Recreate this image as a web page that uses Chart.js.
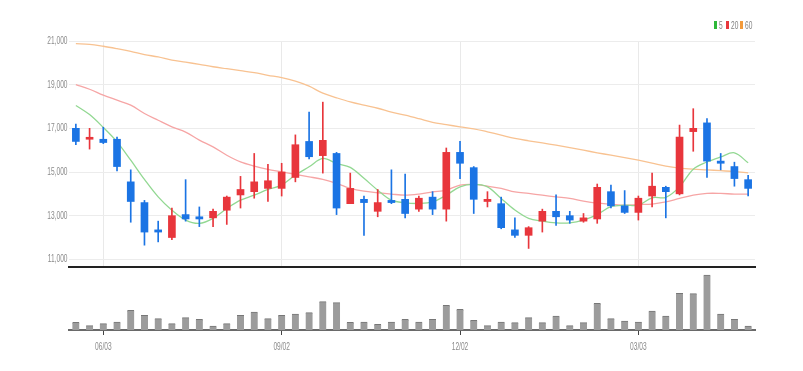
<!DOCTYPE html>
<html>
<head>
<meta charset="utf-8">
<script src="https://cdn.jsdelivr.net/npm/chart.js@4.4.1/dist/chart.umd.min.js"></script>
<style>
  html, body { margin: 0; padding: 0; background: #ffffff; }
  #wrap { position: relative; width: 803px; height: 371px; overflow: hidden; background: #fff; }
  #priceCanvas { position: absolute; left: 0; top: 0; }
  #volCanvas { position: absolute; left: 0; top: 268px; }
  .lgbx { position: absolute; top: 21px; width: 3px; height: 8px; }
  .lgtx { position: absolute; top: 18px; font: 11px 'Liberation Sans', Arial, sans-serif; color: #808080;
          transform: scaleX(0.6); transform-origin: 0 0; line-height: 14px; white-space: nowrap; }
</style>
</head>
<body>
<div id="wrap">
  <canvas id="priceCanvas" width="803" height="270"></canvas>
  <canvas id="volCanvas" width="803" height="103"></canvas>
</div>
<script>
// ---- data ----
const categories = ['05/20','05/27','06/03','06/10','06/17','06/24','07/01','07/08','07/15','07/22',
  '07/29','08/05','08/12','08/19','08/26','09/02','09/09','09/16','09/23','09/30',
  '10/07','10/14','10/21','10/28','11/04','11/11','11/18','11/25','12/02','12/09',
  '12/16','12/23','12/30','01/06','01/13','01/20','01/27','02/03','02/10','02/17',
  '02/24','03/03','03/10','03/17','03/24','03/31','04/07','04/14','04/21','04/28'];
const tickLabels = ['06/03','09/02','12/02','03/03'];
const yTickValues = [11000, 13000, 15000, 17000, 19000, 21000];

const openPrices = [17000,16500,16500,16500,14550,13600,12350,12000,13050,12950,
  12900,13250,13950,14100,14250,14250,14750,16400,15750,15850,
  13550,13750,13200,13700,13750,13300,13850,13300,15900,15200,
  13650,13550,12350,12100,12750,13200,13000,12750,12850,14100,
  13450,13150,13900,14300,14000,16850,17250,15500,15250,14650];
const highPrices = [17200,17000,17050,16600,15100,13700,12750,13350,14650,13400,
  13300,13900,14800,15850,15350,15400,16700,17750,18200,15900,
  14950,13900,14200,15100,14900,13900,14100,16100,16400,15250,
  14100,13850,12900,12500,13300,13950,13200,13100,14450,14400,
  14150,13900,14950,14350,17150,17900,17450,15850,15450,14850];
const lowPrices = [16250,16050,16300,15050,12700,11650,11800,11900,12750,12500,
  12500,12600,13350,13800,13650,13900,14550,15600,14950,13050,
  13550,12100,12950,13550,12900,13200,13050,12750,14700,13100,
  13400,12400,12000,11500,12250,12550,12650,12700,12650,13350,
  13100,12800,13400,12900,13950,15950,14750,15100,14350,13900];
const closePrices = [16400,16550,16350,15250,13650,12250,12250,13000,12850,12850,
  13200,13850,14200,14550,14600,15000,16250,15700,16450,13350,
  14250,13600,13600,13600,13100,13800,13300,15900,15400,13750,
  13750,12450,12100,12450,13200,12950,12800,12900,14300,13450,
  13150,13800,14350,14100,16600,17000,15500,15400,14700,14250];

const ma5 = [18050,17630,17040,16380,15540,14660,13860,13250,12800,12650,
  12880,13330,13710,13940,14200,14400,14860,15240,15620,15390,
  15210,14710,14170,13710,13590,13560,13630,13940,14320,14430,
  14320,13790,13260,12880,12750,12670,12670,12800,13050,13410,
  13480,13480,13820,13840,14320,15130,15460,15690,15880,15420];
const ma20 = [19000,18790,18520,18290,18060,17680,17370,17070,16830,16460,
  16150,15770,15460,15270,15120,15010,14890,14780,14660,14480,
  14250,14120,14050,13990,13940,13990,14090,14170,14400,14430,
  14350,14250,14090,14020,13940,13860,13790,13670,13580,13530,
  13480,13510,13530,13630,13790,13940,14020,14020,13990,13990];
const ma60 = [20880,20850,20760,20650,20530,20380,20270,20120,20030,19930,
  19820,19730,19640,19550,19430,19320,19160,18930,18610,18400,
  18210,18060,17920,17740,17600,17440,17270,17170,17070,16980,
  16840,16690,16540,16430,16330,16230,16120,16000,15880,15770,
  15660,15540,15410,15270,15180,15130,15100,15060,15020,14960];

const volumes = [77,43,63,80,197,147,113,63,123,107,
  40,63,147,180,113,147,160,173,283,273,
  77,80,57,80,107,80,107,247,207,97,
  43,80,73,123,73,140,43,73,267,113,
  90,80,190,140,367,363,550,160,107,40];

const seriesNames = ['5', '20', '60'];

// ---- styles ----
const UP = '#e8363c';
const DOWN = '#1b74e4';
const FONT = "'Liberation Sans', Arial, sans-serif";
const lineColors = ['#92d892', '#f6a5a5', '#f8c291'];
const legendColors = ['#2eb83a', '#e8363c', '#f39a3a'];
const legendBoxX = [714, 726, 740];

const wicks = categories.map((_, i) => [lowPrices[i], highPrices[i]]);
const bodies = categories.map((_, i) => [openPrices[i], closePrices[i]]);
const candleColor = ctx => closePrices[ctx.dataIndex] >= openPrices[ctx.dataIndex] ? UP : DOWN;
const isTick = i => tickLabels.includes(categories[i]);

// legend (html text)
const wrap = document.getElementById('wrap');
seriesNames.forEach((n, k) => {
  const bx = document.createElement('div'); bx.className = 'lgbx';
  bx.style.left = legendBoxX[k] + 'px'; bx.style.background = legendColors[k];
  const tx = document.createElement('div'); tx.className = 'lgtx';
  tx.style.left = (legendBoxX[k] + 4.5) + 'px'; tx.textContent = n;
  wrap.appendChild(bx); wrap.appendChild(tx);
});

// condensed axis labels, positioned by the chart's own scales
const squeezedLabels = {
  id: 'squeezedLabels',
  afterDraw(chart, args, opts) {
    const ctx = chart.ctx;
    ctx.save();
    ctx.font = opts.size + 'px ' + FONT;
    ctx.fillStyle = opts.color;
    const put = (txt, x, y) => { ctx.save(); ctx.translate(x, y); ctx.scale(opts.squeeze, 1); ctx.fillText(txt, 0, 0); ctx.restore(); };
    if (opts.axis === 'y') {
      const s = chart.scales.y;
      ctx.textAlign = 'right'; ctx.textBaseline = 'middle';
      s.ticks.forEach(t => put(Number(t.value).toLocaleString('en-US'), s.right - opts.pad, s.getPixelForValue(t.value)));
    } else {
      const s = chart.scales.x;
      ctx.textAlign = 'center'; ctx.textBaseline = 'top';
      categories.forEach((c, i) => { if (isTick(i)) put(c, s.getPixelForValue(i), s.top + opts.pad); });
    }
    ctx.restore();
  }
};

const maData = [ma5, ma20, ma60];
const lineSets = maData.map((d, k) => ({
  type: 'line', label: seriesNames[k], data: d, borderColor: lineColors[k], borderWidth: 1.3,
  pointRadius: 0, tension: 0.35, order: 3, fill: false
}));

new Chart(document.getElementById('priceCanvas'), {
  type: 'bar',
  data: {
    labels: categories,
    datasets: [
      ...lineSets,
      { label: 'wick', data: wicks, backgroundColor: candleColor, barThickness: 1, grouped: false, order: 2 },
      { label: 'body', data: bodies, backgroundColor: candleColor, barThickness: 7, grouped: false, minBarLength: 2, order: 1 }
    ]
  },
  plugins: [squeezedLabels],
  options: {
    responsive: false, animation: false,
    layout: { padding: { top: 41, bottom: 3, left: 0, right: 48 } },
    plugins: {
      legend: { display: false }, tooltip: { enabled: false },
      squeezedLabels: { axis: 'y', size: 11, squeeze: 0.6, color: '#8a8a8a', pad: 1.5 }
    },
    scales: {
      x: {
        offset: true,
        ticks: { display: false, autoSkip: false },
        grid: { offset: false, drawTicks: false, color: ctx => isTick(ctx.index) ? '#e9e9e9' : 'rgba(0,0,0,0)' },
        border: { color: '#222', width: 2 },
        afterFit: s => { s.height = 0; }
      },
      y: {
        min: 10650, max: 21000,
        afterBuildTicks: s => { s.ticks = yTickValues.map(v => ({ value: v })); },
        afterFit: s => { s.width = 69; },
        ticks: { display: false },
        grid: { color: '#ececec', drawTicks: false },
        border: { display: false }
      }
    }
  }
});

new Chart(document.getElementById('volCanvas'), {
  type: 'bar',
  data: {
    labels: categories,
    datasets: [{ data: volumes, backgroundColor: '#9c9c9c', borderColor: '#777',
      borderWidth: { top: 1, left: 0, right: 0, bottom: 0 }, barThickness: 7 }]
  },
  plugins: [squeezedLabels],
  options: {
    responsive: false, animation: false,
    layout: { padding: { top: 5, bottom: 0, left: 0, right: 48 } },
    plugins: {
      legend: { display: false }, tooltip: { enabled: false },
      squeezedLabels: { axis: 'x', size: 11, squeeze: 0.6, color: '#8a8a8a', pad: 11 }
    },
    scales: {
      x: {
        offset: true,
        grid: { offset: false, drawOnChartArea: false, drawTicks: true, tickLength: 5,
                color: ctx => isTick(ctx.index) ? '#444' : 'rgba(0,0,0,0)' },
        border: { color: '#6a6a6a', width: 2 },
        ticks: { display: false, autoSkip: false },
        afterFit: s => { s.height = 41; }
      },
      y: {
        min: 0, max: 570,
        ticks: { display: false },
        grid: { display: false, drawTicks: false },
        border: { display: false },
        afterFit: s => { s.width = 69; }
      }
    }
  }
});
</script>
</body>
</html>
